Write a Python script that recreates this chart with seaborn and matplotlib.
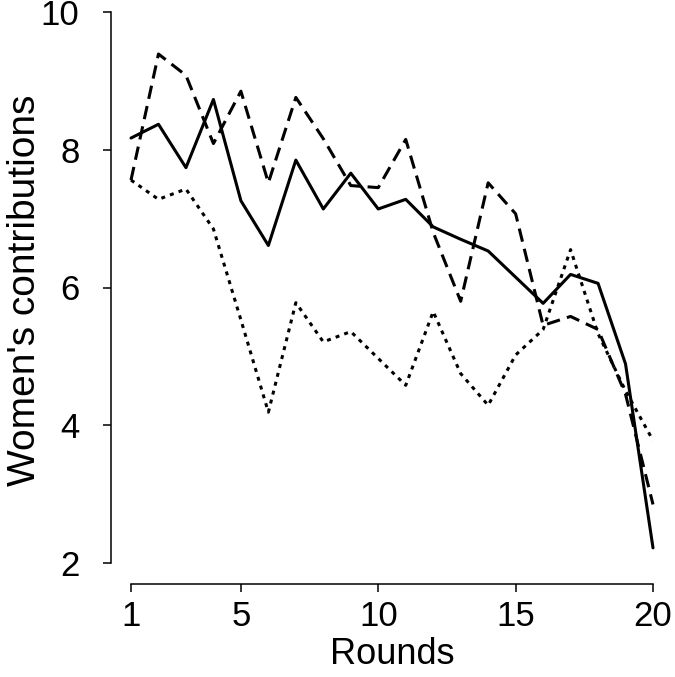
import matplotlib
matplotlib.use("Agg")
import matplotlib.pyplot as plt
import pandas as pd
import seaborn as sns

# values
rounds = list(range(1, 21))
solid_vals = [8.17, 8.37, 7.74, 8.73, 7.26, 6.61, 7.85, 7.14, 7.66, 7.14,
              7.28, 6.88, 6.70, 6.53, 6.15, 5.77, 6.19, 6.06, 4.89, 2.22]
dashed_vals = [7.56, 9.39, 9.08, 8.09, 8.85, 7.52, 8.76, 8.16, 7.48, 7.45,
               8.15, 6.80, 5.80, 7.52, 7.07, 5.45, 5.58, 5.39, 4.45, 2.85]
dotted_vals = [7.56, 7.28, 7.43, 6.85, 5.53, 4.19, 5.78, 5.21, 5.36, 4.97,
               4.58, 5.65, 4.75, 4.29, 5.02, 5.39, 6.55, 5.33, 4.50, 3.78]
series_names = ['solid', 'dashed', 'dotted']
x_ticks = [1, 5, 10, 15, 20]
y_ticks = [2, 4, 6, 8, 10]

df = pd.DataFrame({
    'round': rounds * 3,
    'value': solid_vals + dashed_vals + dotted_vals,
    'series': [s for s in series_names for _ in rounds],
})

sns.set_style('ticks')
plt.rcParams['font.family'] = ['Liberation Sans', 'DejaVu Sans']
plt.rcParams['text.color'] = 'black'
plt.rcParams['axes.labelcolor'] = 'black'
plt.rcParams['xtick.color'] = 'black'
plt.rcParams['ytick.color'] = 'black'

fig = plt.figure(figsize=(6.75, 6.77), dpi=100)
ax = fig.add_axes([131 / 675, 114 / 677, 522 / 675, 551 / 677])

sns.lineplot(data=df, x='round', y='value', style='series',
             dashes={'solid': '', 'dashed': (4.4, 2.4), 'dotted': (1.3, 1.7)},
             color='black', linewidth=2.2, estimator=None, sort=False,
             legend=False, ax=ax)
for line in ax.lines:
    line.set_clip_on(False)

ax.set_xlim(1, 20)
ax.set_ylim(2, 10)
ax.set_xticks(x_ticks)
ax.set_yticks(y_ticks)
ax.tick_params(axis='both', labelsize=25, length=5.5, width=1.1,
               color='black', labelcolor='black')
ax.tick_params(axis='x', pad=6)
ax.tick_params(axis='y', pad=17)
ax.set_xlabel('Rounds', fontsize=26)
ax.set_ylabel("Women's contributions", fontsize=28)
ax.xaxis.set_label_coords(0.5, -0.134)
ax.yaxis.set_label_coords(-0.169, 0.494)

sns.despine(ax=ax, offset={'left': 14.5, 'bottom': 15})
for side in ['left', 'bottom']:
    ax.spines[side].set_linewidth(1.1)
    ax.spines[side].set_color('black')

fig.savefig('out.png', dpi=100)
